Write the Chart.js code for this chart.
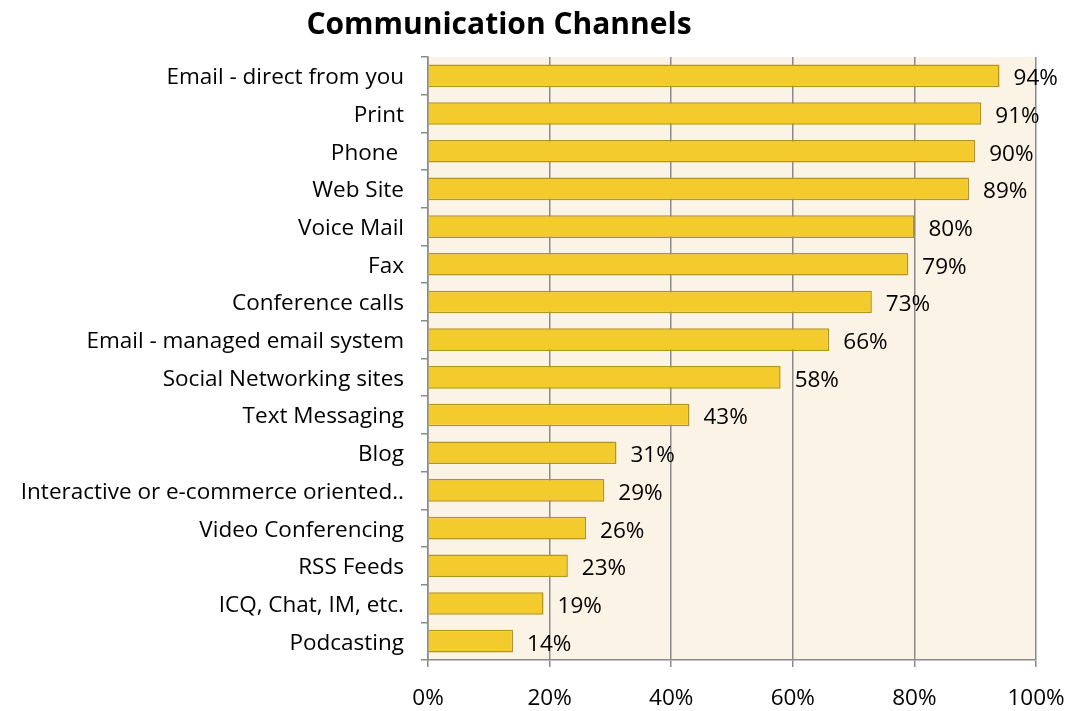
<!DOCTYPE html>
<html><head><meta charset="utf-8">
<script src="https://cdn.jsdelivr.net/npm/chart.js@4"></script>
<style>html,body{margin:0;padding:0;background:#fff}#wrap{width:1072px;height:711px;position:relative}</style>
</head><body><div id="wrap"><canvas id="c" width="1072" height="711"></canvas></div>
<script>
const categories = ["Email - direct from you","Print","Phone ","Web Site","Voice Mail","Fax","Conference calls","Email - managed email system","Social Networking sites","Text Messaging","Blog","Interactive or e-commerce oriented..","Video Conferencing","RSS Feeds","ICQ, Chat, IM, etc.","Podcasting"];
const values = [94,91,90,89,80,79,73,66,58,43,31,29,26,23,19,14];
const xTicks = [0,20,40,60,80,100];
const titleText = "Communication Channels";
const FONT = "'Open Sans', sans-serif";

const bgPlugin = {
  id:'bg',
  beforeDraw(chart){
    const {ctx, chartArea:a} = chart;
    ctx.save(); ctx.fillStyle='#FCF3E7'; ctx.fillRect(a.left,a.top,a.right-a.left,a.bottom-a.top); ctx.restore();
  }
};
const labelPlugin = {
  id:'lbl',
  afterDatasetsDraw(chart){
    const {ctx} = chart; const meta = chart.getDatasetMeta(0);
    ctx.save(); ctx.fillStyle='#000'; ctx.font='22.5px '+FONT; ctx.textBaseline='middle'; ctx.textAlign='left';
    meta.data.forEach((el,i)=>{ ctx.fillText(values[i]+'%', el.x+14, el.y+3); });
    ctx.font='bold 30px '+FONT; ctx.textAlign='center';
    ctx.fillText(titleText, 499, 25);
    ctx.restore();
  }
};
new Chart(document.getElementById('c'),{
  type:'bar',
  data:{labels:categories,datasets:[{data:values,backgroundColor:'#F4CB2C',borderColor:'#B3941C',borderWidth:1.5,barPercentage:0.6,categoryPercentage:1}]},
  options:{
    indexAxis:'y',responsive:false,animation:false,
    layout:{padding:{top:57,right:36,left:0,bottom:0}},
    plugins:{legend:{display:false},tooltip:{enabled:false}},
    scales:{
      x:{min:0,max:100,
        afterBuildTicks(s){s.ticks=xTicks.map(v=>({value:v}));},
        afterFit(s){s.height=51;s.paddingRight=0;s.paddingLeft=0;},
        ticks:{callback:v=>v+'%',color:'#000',font:{family:FONT,size:22.5},padding:18,maxRotation:0},
        grid:{color:'#8a8a8a',lineWidth:1.5,tickLength:7,drawOnChartArea:true},
        border:{color:'#8a8a8a',width:1.5}},
      y:{
        afterFit(s){s.width=428;s.paddingTop=0;s.paddingBottom=0;},
        ticks:{color:'#000',font:{family:FONT,size:22.5},padding:17,autoSkip:false,labelOffset:2},
        grid:{offset:true,drawOnChartArea:false,tickLength:7,color:'#8a8a8a',lineWidth:1.5},
        border:{color:'#8a8a8a',width:1.5}}
    }
  },
  plugins:[bgPlugin,labelPlugin]
});
</script></body></html>
